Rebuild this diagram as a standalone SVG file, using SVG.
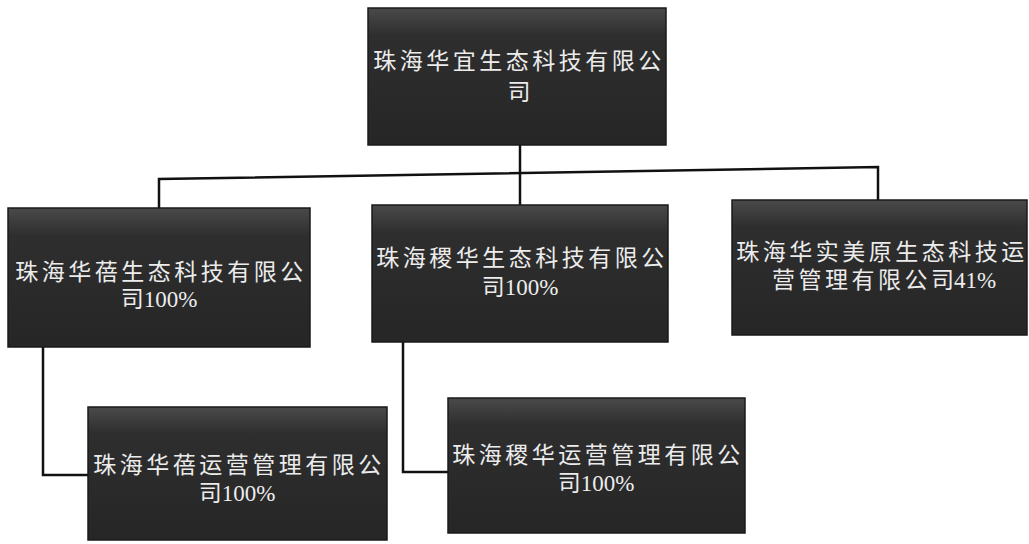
<svg xmlns="http://www.w3.org/2000/svg" width="1029" height="544" viewBox="0 0 1029 544">
<defs>
<linearGradient id="boxg" x1="0" y1="0" x2="0" y2="1">
<stop offset="0" stop-color="#4a4a4a"/>
<stop offset="0.2" stop-color="#2e2e2e"/>
<stop offset="1" stop-color="#262626"/>
</linearGradient>
<style>
.box{fill:url(#boxg);stroke:#1a1a1a;stroke-width:1.5}
.t{font-family:"Liberation Serif","Noto Sans CJK SC",serif;font-size:23px;letter-spacing:3.5px;fill:#ececec;text-anchor:middle}
.n{letter-spacing:0px}
.c{fill:none;stroke:#111;stroke-width:2.5}
</style>
</defs>
<rect width="1029" height="544" fill="#ffffff"/>
<g id="connectors">
<line class="c" x1="520" y1="145" x2="520" y2="205"/>
<polyline class="c" points="159,208 159,179 878,167 878,200"/>
<polyline class="c" points="43,347 43,475 88,475"/>
<polyline class="c" points="403,342 403,472 448,472"/>
</g>
<g id="n0">
<rect class="box" x="368" y="8" width="298" height="137"/>
<text class="t" x="519" y="69">珠海华宜生态科技有限公</text>
<text class="t n" x="519" y="100">司</text>
</g>
<g id="n1">
<rect class="box" x="8" y="208" width="302" height="139"/>
<text class="t" x="161" y="280">珠海华蓓生态科技有限公</text>
<text class="t n" x="159" y="307">司100%</text>
</g>
<g id="n2">
<rect class="box" x="372" y="205" width="296" height="137"/>
<text class="t" x="522" y="266">珠海稷华生态科技有限公</text>
<text class="t n" x="520" y="295">司100%</text>
</g>
<g id="n3">
<rect class="box" x="732" y="200" width="295" height="135"/>
<text class="t" x="882" y="260">珠海华实美原生态科技运</text>
<text class="t" x="884" y="288">营管理有限公<tspan class="n">司41%</tspan></text>
</g>
<g id="n4">
<rect class="box" x="88" y="407" width="299" height="133"/>
<text class="t" x="239" y="473">珠海华蓓运营管理有限公</text>
<text class="t n" x="237" y="501">司100%</text>
</g>
<g id="n5">
<rect class="box" x="448" y="398" width="297" height="135"/>
<text class="t" x="598" y="463">珠海稷华运营管理有限公</text>
<text class="t n" x="596" y="491">司100%</text>
</g>
</svg>
